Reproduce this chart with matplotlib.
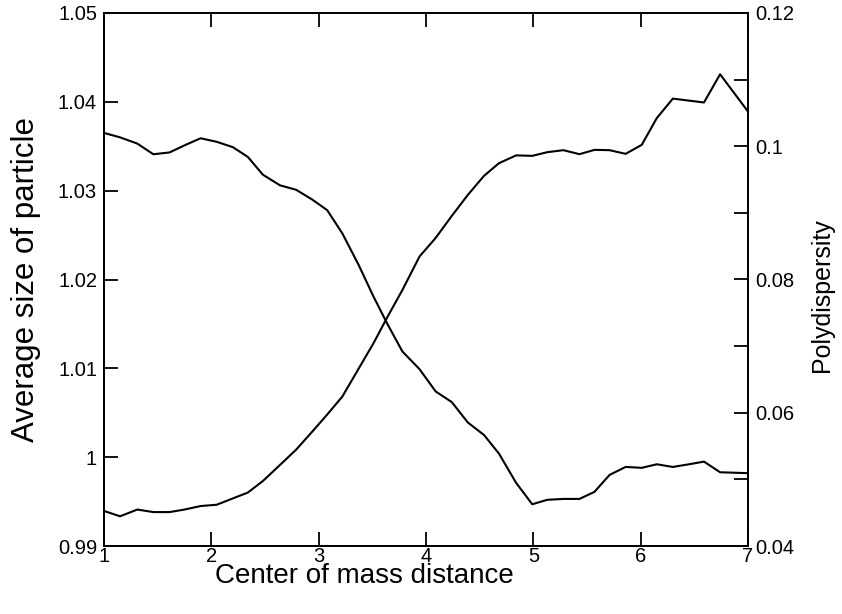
import numpy as np
import matplotlib
matplotlib.use("Agg")
import matplotlib.pyplot as plt
from matplotlib.ticker import FixedLocator, FixedFormatter

plt.rcParams['font.family'] = ['Liberation Sans', 'DejaVu Sans']

# center of mass distance (shared by both curves)
distance = [1.0, 1.15, 1.31, 1.46, 1.61, 1.75, 1.90, 2.05, 2.20, 2.34,
            2.48, 2.64, 2.79, 2.94, 3.08, 3.22, 3.37, 3.51, 3.64, 3.78,
            3.94, 4.09, 4.24, 4.39, 4.54, 4.68, 4.84, 4.99, 5.13, 5.28,
            5.43, 5.57, 5.71, 5.86, 6.01, 6.15, 6.30, 6.45, 6.59, 6.74, 7.0]

# average size of particle (left axis)
avg_size = [1.0365, 1.0360, 1.0353, 1.0341, 1.0343, 1.0351, 1.0359, 1.0355, 1.0349, 1.0338,
            1.0318, 1.0306, 1.0301, 1.0290, 1.0278, 1.0252, 1.0217, 1.0181, 1.0150, 1.0119,
            1.0099, 1.0074, 1.0062, 1.0039, 1.0025, 1.0004, 0.9971, 0.9947, 0.9952, 0.9953,
            0.9953, 0.9961, 0.9980, 0.9989, 0.9988, 0.9992, 0.9989, 0.9992, 0.9995, 0.9983,
            0.9982]

# polydispersity (right axis)
polydisp = [0.04526, 0.04446, 0.04547, 0.04509, 0.04509, 0.04547, 0.04600, 0.04619, 0.04714, 0.04802,
            0.04975, 0.05217, 0.05446, 0.05716, 0.05974, 0.06242, 0.06655, 0.07041, 0.07436, 0.07842,
            0.08346, 0.08624, 0.08954, 0.09270, 0.09555, 0.09746, 0.09863, 0.09856, 0.09911, 0.09941,
            0.09881, 0.09946, 0.09941, 0.09886, 0.10021, 0.10422, 0.10715, 0.10685, 0.10657, 0.11080,
            0.10521]

x_ticks = [1, 2, 3, 4, 5, 6, 7]
left_ticks = [0.99, 1.0, 1.01, 1.02, 1.03, 1.04, 1.05]
left_labels = ["0.99", "1", "1.01", "1.02", "1.03", "1.04", "1.05"]
right_ticks = [0.04, 0.06, 0.08, 0.1, 0.12]
right_labels = ["0.04", "0.06", "0.08", "0.1", "0.12"]
right_minor = [0.05, 0.07, 0.09, 0.11]

W, H = 842, 614
fig = plt.figure(figsize=(W / 100, H / 100), dpi=100)
ax = fig.add_axes([104 / W, (H - 546) / H, 644 / W, 533 / H])
ax2 = ax.twinx()

ax.plot(distance, avg_size, color='black', lw=1.5)
ax2.plot(distance, polydisp, color='black', lw=1.5)

ax.set_xlim(1, 7)
ax.set_ylim(0.99, 1.05)
ax2.set_ylim(0.04, 0.12)

ax.xaxis.set_major_locator(FixedLocator(x_ticks))
ax.yaxis.set_major_locator(FixedLocator(left_ticks))
ax.yaxis.set_major_formatter(FixedFormatter(left_labels))
ax2.yaxis.set_major_locator(FixedLocator(right_ticks))
ax2.yaxis.set_major_formatter(FixedFormatter(right_labels))
ax2.yaxis.set_minor_locator(FixedLocator(right_minor))

ax.tick_params(axis='x', direction='in', top=True, length=10, width=1.3,
               labelsize=14.5, pad=1)
ax.tick_params(axis='y', direction='in', right=False, length=10, width=1.3,
               labelsize=14.5, pad=5)
ax2.tick_params(axis='y', which='both', direction='in', length=10, width=1.3,
                labelsize=14.5, pad=5)

for a in (ax, ax2):
    for s in a.spines.values():
        s.set_linewidth(1.3)

ax.set_xlabel("Center of mass distance", fontsize=20)
ax.xaxis.set_label_coords(0.405, -0.032)
ax.xaxis.label.set_va('top')
ax.set_ylabel("Average size of particle", fontsize=22.5)
ax.yaxis.set_label_coords(-0.098, 0.5)
ax2.set_ylabel("Polydispersity", fontsize=18)
ax2.yaxis.set_label_coords(1.097, 0.47)

fig.savefig("out.png", dpi=100, facecolor='white')
